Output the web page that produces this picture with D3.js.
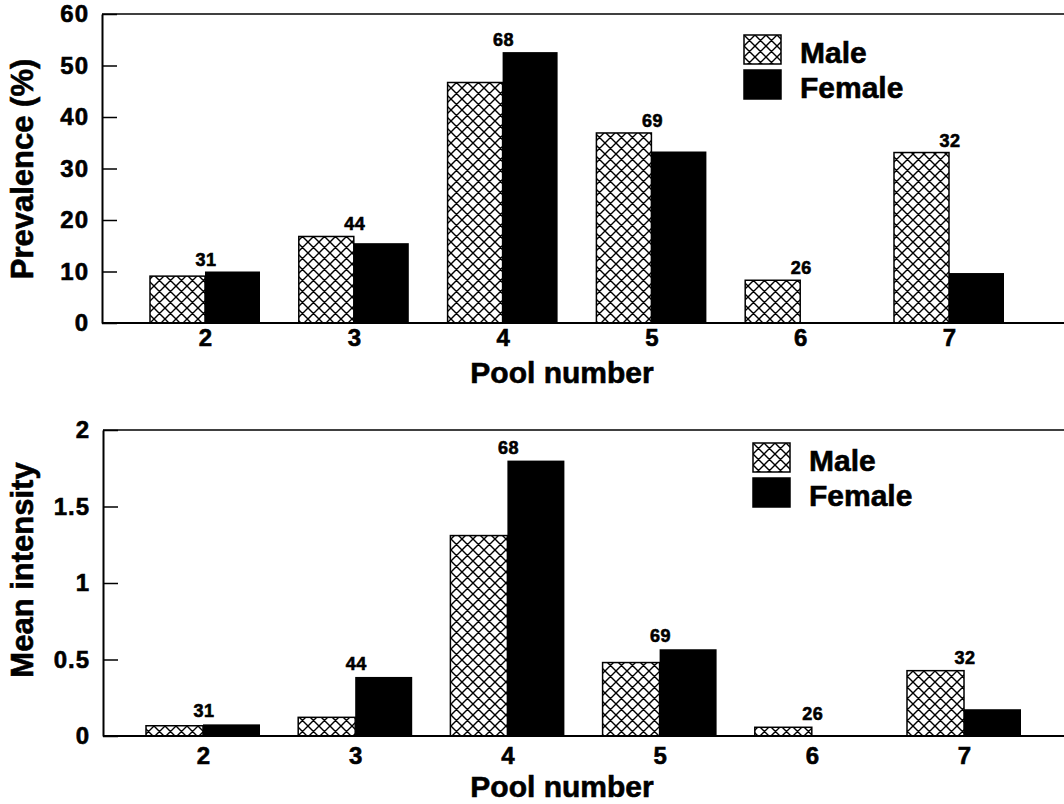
<!DOCTYPE html>
<html>
<head>
<meta charset="utf-8">
<script src="https://cdn.jsdelivr.net/npm/d3@7"></script>
<style>
  body { margin: 0; background: #fff; }
  svg { display: block; font-family: "Liberation Sans", Arial, sans-serif; font-weight: bold; }
  svg text { stroke: black; stroke-width: 0.6px; }
</style>
</head>
<body>
<svg id="chart" width="1064" height="804"></svg>
<script>
var pools = ["2", "3", "4", "5", "6", "7"]
var sampleSizes = [31, 44, 68, 69, 26, 32]
var series = ["Male", "Female"]

var prevalenceMale = [9.1, 16.8, 46.7, 36.9, 8.3, 33.1]
var prevalenceFemale = [10.0, 15.5, 52.6, 33.3, 0, 9.7]
var prevalenceTicks = [0, 10, 20, 30, 40, 50, 60]

var intensityMale = [0.067, 0.122, 1.31, 0.48, 0.057, 0.427]
var intensityFemale = [0.076, 0.386, 1.80, 0.567, 0, 0.175]
var intensityTicks = [0, 0.5, 1, 1.5, 2]

var svg = d3.select("#chart")

// cross hatch for the male bars
var defs = svg.append("defs")
var hatch = defs.append("pattern")
                .attr("id", "hatch")
                .attr("patternUnits", "userSpaceOnUse")
                .attr("width", 11)
                .attr("height", 11)
hatch.append("rect").attr("width", 11).attr("height", 11).attr("fill", "white")
hatch.append("path")
     .attr("d", "M0,0L11,11M11,0L0,11M-1,10L1,12M10,-1L12,1M-1,1L1,-1M10,12L12,10")
     .attr("stroke", "black")
     .attr("stroke-width", 1.4)

function drawPanel(opts) {
    var g = svg.append("g")

    var x = d3.scalePoint()
              .domain(pools)
              .range(opts.xRange)

    var y = d3.scaleLinear()
              .domain(opts.yDomain)
              .range([opts.bottom, opts.top])

    var rows = pools.map((p, i) => ({
        pool: p,
        n: sampleSizes[i],
        male: opts.male[i],
        female: opts.female[i]
    }))

    // bars
    var bw = opts.barWidth
    g.selectAll(".male")
     .data(rows)
     .enter()
     .append("rect")
     .attr("class", "male")
     .attr("x", d => x(d.pool) - bw)
     .attr("y", d => y(d.male))
     .attr("width", bw)
     .attr("height", d => y(0) - y(d.male))
     .attr("fill", "url(#hatch)")
     .attr("stroke", "black")
     .attr("stroke-width", 1.5)

    g.selectAll(".female")
     .data(rows.filter(d => d.female > 0))
     .enter()
     .append("rect")
     .attr("class", "female")
     .attr("x", d => x(d.pool))
     .attr("y", d => y(d.female))
     .attr("width", bw)
     .attr("height", d => y(0) - y(d.female))
     .attr("fill", "black")

    // sample sizes above each pair
    g.selectAll(".count")
     .data(rows)
     .enter()
     .append("text")
     .attr("class", "count")
     .attr("x", d => x(d.pool) + 1)
     .attr("y", d => y(Math.max(d.male, d.female)) - opts.labelGap)
     .attr("text-anchor", "middle")
     .style("font-size", "18px")
     .style("letter-spacing", "0.5px")
     .text(d => d.n)

    // frame lines
    g.append("line")
     .attr("x1", opts.left).attr("x2", 1064)
     .attr("y1", opts.top).attr("y2", opts.top)
     .attr("stroke", "black").attr("stroke-width", 1.6)

    g.append("line")
     .attr("x1", opts.left).attr("x2", 1064)
     .attr("y1", opts.bottom).attr("y2", opts.bottom)
     .attr("stroke", "black").attr("stroke-width", 2)

    // y axis, ticks point inward
    var yAxis = g.append("g")
                 .attr("transform", `translate(${opts.left},0)`)
                 .call(d3.axisLeft(y)
                         .tickValues(opts.ticks)
                         .tickFormat(d => d)
                         .tickSizeInner(-15)
                         .tickSizeOuter(0)
                         .tickPadding(13))
    yAxis.select(".domain").attr("stroke-width", 2)
    yAxis.selectAll(".tick line").attr("stroke-width", 1.5)
    yAxis.selectAll("text")
         .attr("fill", "black")
         .style("font-size", "24px")
         .style("font-family", "'Liberation Sans', Arial, sans-serif")
         .style("font-weight", "bold")
         .style("letter-spacing", "1px")

    // x axis labels only
    var xAxis = g.append("g")
                 .attr("transform", `translate(0,${opts.bottom})`)
                 .call(d3.axisBottom(x).tickSize(0).tickPadding(opts.xPad))
    xAxis.select(".domain").remove()
    xAxis.selectAll("text")
         .attr("fill", "black")
         .style("font-size", "24px")
         .style("font-family", "'Liberation Sans', Arial, sans-serif")
         .style("font-weight", "bold")

    g.append("text")
     .attr("x", 562)
     .attr("y", opts.bottom + opts.titleDy)
     .attr("text-anchor", "middle")
     .style("font-size", "30px")
     .text("Pool number")

    g.append("text")
     .attr("transform", `translate(33,${opts.yLabelMid}) rotate(-90)`)
     .attr("text-anchor", "middle")
     .style("font-size", "31px")
     .text(opts.yLabel)

    // legend
    var lg = g.append("g")
              .attr("transform", `translate(${opts.legend[0]},${opts.legend[1]})`)
    var legend = lg.selectAll(".legend")
                   .data(series)
                   .enter()
                   .append("g")
                   .attr("transform", (d, i) => `translate(0,${i * 35})`)
    legend.append("rect")
          .attr("width", 37)
          .attr("height", 29)
          .attr("fill", d => d == "Male" ? "url(#hatch)" : "black")
          .attr("stroke", "black")
          .attr("stroke-width", 1.5)
    legend.append("text")
          .attr("x", 56)
          .attr("y", 28)
          .style("font-size", "30px")
          .text(d => d)
}

drawPanel({
    top: 14, bottom: 323, left: 102,
    xRange: [205, 949], barWidth: 55,
    yDomain: [0, 60], ticks: prevalenceTicks,
    male: prevalenceMale, female: prevalenceFemale,
    labelGap: 6, xPad: 6, titleDy: 60,
    yLabel: "Prevalence (%)", yLabelMid: 169,
    legend: [744, 35]
})

drawPanel({
    top: 430, bottom: 736, left: 103,
    xRange: [203, 964], barWidth: 57,
    yDomain: [0, 2], ticks: intensityTicks,
    male: intensityMale, female: intensityFemale,
    labelGap: 7, xPad: 11, titleDy: 61,
    yLabel: "Mean intensity", yLabelMid: 570,
    legend: [753, 443]
})
</script>
</body>
</html>
